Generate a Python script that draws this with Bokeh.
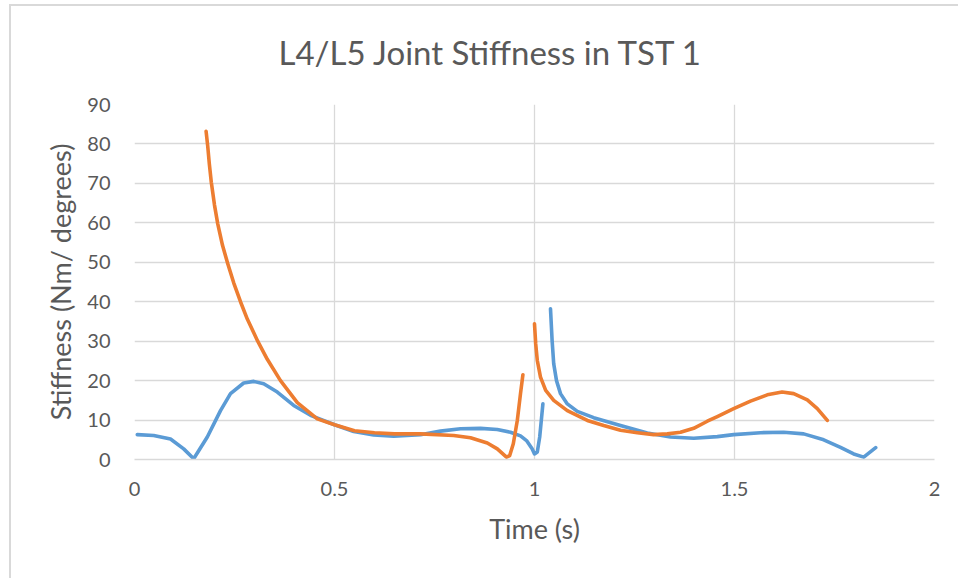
from bokeh.plotting import figure
from bokeh.models import FixedTicker, Title, InlineStyleSheet
from bokeh.embed import file_html
from bokeh.resources import INLINE

NAN = float("nan")

# Series 1 (blue): time in seconds, stiffness in Nm/degree; NaN marks a break in the trace
time_1 = [0.007, 0.048, 0.09, 0.123, 0.148, 0.182, 0.215, 0.24, 0.273, 0.298, 0.323,
          0.357, 0.398, 0.44, 0.5, 0.548, 0.598, 0.648, 0.715, 0.765, 0.815, 0.865,
          0.907, 0.94, 0.965, 0.98, 0.994, 1.0, 1.007, 1.013, 1.021,
          NAN,
          1.04, 1.044, 1.048, 1.055, 1.065, 1.082, 1.107, 1.148, 1.215, 1.282, 1.34,
          1.398, 1.457, 1.498, 1.565, 1.623, 1.673, 1.723, 1.765, 1.798, 1.823, 1.853]
stiff_1 = [6.3, 6.1, 5.2, 2.7, 0.2, 5.7, 12.4, 16.7, 19.4, 19.8, 19.2,
           17.1, 13.7, 11.2, 8.8, 7.1, 6.2, 5.9, 6.3, 7.2, 7.8, 7.9,
           7.6, 6.9, 6.0, 4.8, 2.7, 1.4, 1.9, 5.7, 14.1,
           NAN,
           38.2, 30.2, 24.3, 20.0, 16.7, 14.1, 12.2, 10.6, 8.6, 6.7, 5.7,
           5.4, 5.8, 6.3, 6.8, 6.9, 6.5, 5.0, 3.1, 1.4, 0.6, 3.0]

# Series 2 (orange)
time_2 = [0.179, 0.183, 0.187, 0.192, 0.2, 0.208, 0.22, 0.233, 0.248, 0.265, 0.282,
          0.308, 0.332, 0.365, 0.407, 0.457, 0.5, 0.55, 0.6, 0.65, 0.715, 0.798, 0.84,
          0.882, 0.907, 0.93, 0.938, 0.947, 0.957, 0.965, 0.971,
          NAN,
          1.0, 1.003, 1.007, 1.015, 1.028, 1.048, 1.082, 1.132, 1.173, 1.215, 1.257,
          1.298, 1.332, 1.365, 1.398, 1.432, 1.457, 1.498, 1.54, 1.582, 1.619, 1.648,
          1.682, 1.707, 1.732]
stiff_2 = [83.2, 79.5, 75.0, 70.3, 64.5, 59.8, 54.3, 49.7, 44.8, 40.0, 35.6,
           30.0, 25.4, 20.0, 14.4, 10.3, 8.8, 7.3, 6.8, 6.5, 6.5, 6.1, 5.5,
           4.2, 2.7, 0.6, 1.0, 4.0, 9.9, 16.7, 21.5,
           NAN,
           34.4, 29.3, 25.1, 20.9, 17.5, 15.0, 12.4, 9.9, 8.6, 7.4, 6.8,
           6.3, 6.5, 6.9, 7.9, 9.7, 10.9, 12.9, 14.8, 16.4, 17.1, 16.7,
           15.1, 12.9, 9.9]

x_ticks = [0, 0.5, 1, 1.5, 2]
x_tick_labels = ["0", "0.5", "1", "1.5", "2"]
y_ticks = [0, 10, 20, 30, 40, 50, 60, 70, 80, 90]

TITLE = "L4/L5 Joint Stiffness in TST 1"
FONT = "Lato"
TEXT_COLOR = "#595959"
GRID_COLOR = "#d9d9d9"

# Light border around the chart area, drawn over the canvas
chart_border = InlineStyleSheet(css="""
:host { position: relative; }
:host::after {
  content: "";
  position: absolute;
  left: 9px; top: 4px; right: 0; bottom: 0;
  border-left: 2px solid #d9d9d9;
  border-top: 2px solid #d9d9d9;
  pointer-events: none;
  z-index: 10;
}
""")

p = figure(width=958, height=578, x_range=(0, 2), y_range=(0, 90),
           output_backend="svg", toolbar_location=None,
           min_border_left=134, min_border_right=24,
           min_border_top=104, min_border_bottom=119,
           stylesheets=[chart_border])
p.background_fill_color = "white"
p.border_fill_color = "white"
p.outline_line_color = None

# Chart title in the band above the plot area
p.add_layout(Title(text=TITLE, align="left", offset=144, vertical_align="top",
                   standoff=62, text_font=FONT, text_font_size="33px",
                   text_font_style="normal", text_color=TEXT_COLOR), "above")

# Grid
p.xgrid.ticker = FixedTicker(ticks=x_ticks)
p.ygrid.ticker = FixedTicker(ticks=y_ticks)
for g in (p.xgrid, p.ygrid):
    g.grid_line_color = GRID_COLOR
    g.grid_line_width = 1.3

# Axes
p.xaxis.ticker = FixedTicker(ticks=x_ticks)
p.xaxis.major_label_overrides = {t: l for t, l in zip(x_ticks, x_tick_labels)}
p.yaxis.ticker = FixedTicker(ticks=y_ticks)
for ax in (p.xaxis, p.yaxis):
    ax.major_tick_line_color = None
    ax.minor_tick_line_color = None
    ax.major_label_text_font = FONT
    ax.major_label_text_font_size = "20px"
    ax.major_label_text_color = TEXT_COLOR
    ax.axis_label_text_font = FONT
    ax.axis_label_text_font_size = "27px"
    ax.axis_label_text_font_style = "normal"
    ax.axis_label_text_color = TEXT_COLOR
p.xaxis.axis_line_color = GRID_COLOR
p.xaxis.axis_line_width = 1.3
p.yaxis.axis_line_color = None
p.xaxis.axis_label = "Time (s)"
p.yaxis.axis_label = "Stiffness (Nm/ degrees)"
p.xaxis.major_label_standoff = 16
p.yaxis.major_label_standoff = 18
p.xaxis.axis_label_standoff = 13
p.yaxis.axis_label_standoff = 7

# Traces
p.line(time_1, stiff_1, line_color="#5B9BD5", line_width=3.6,
       line_cap="round", line_join="round")
p.line(time_2, stiff_2, line_color="#ED7D31", line_width=3.6,
       line_cap="round", line_join="round")

open("out.html", "w").write(file_html(p, INLINE))
